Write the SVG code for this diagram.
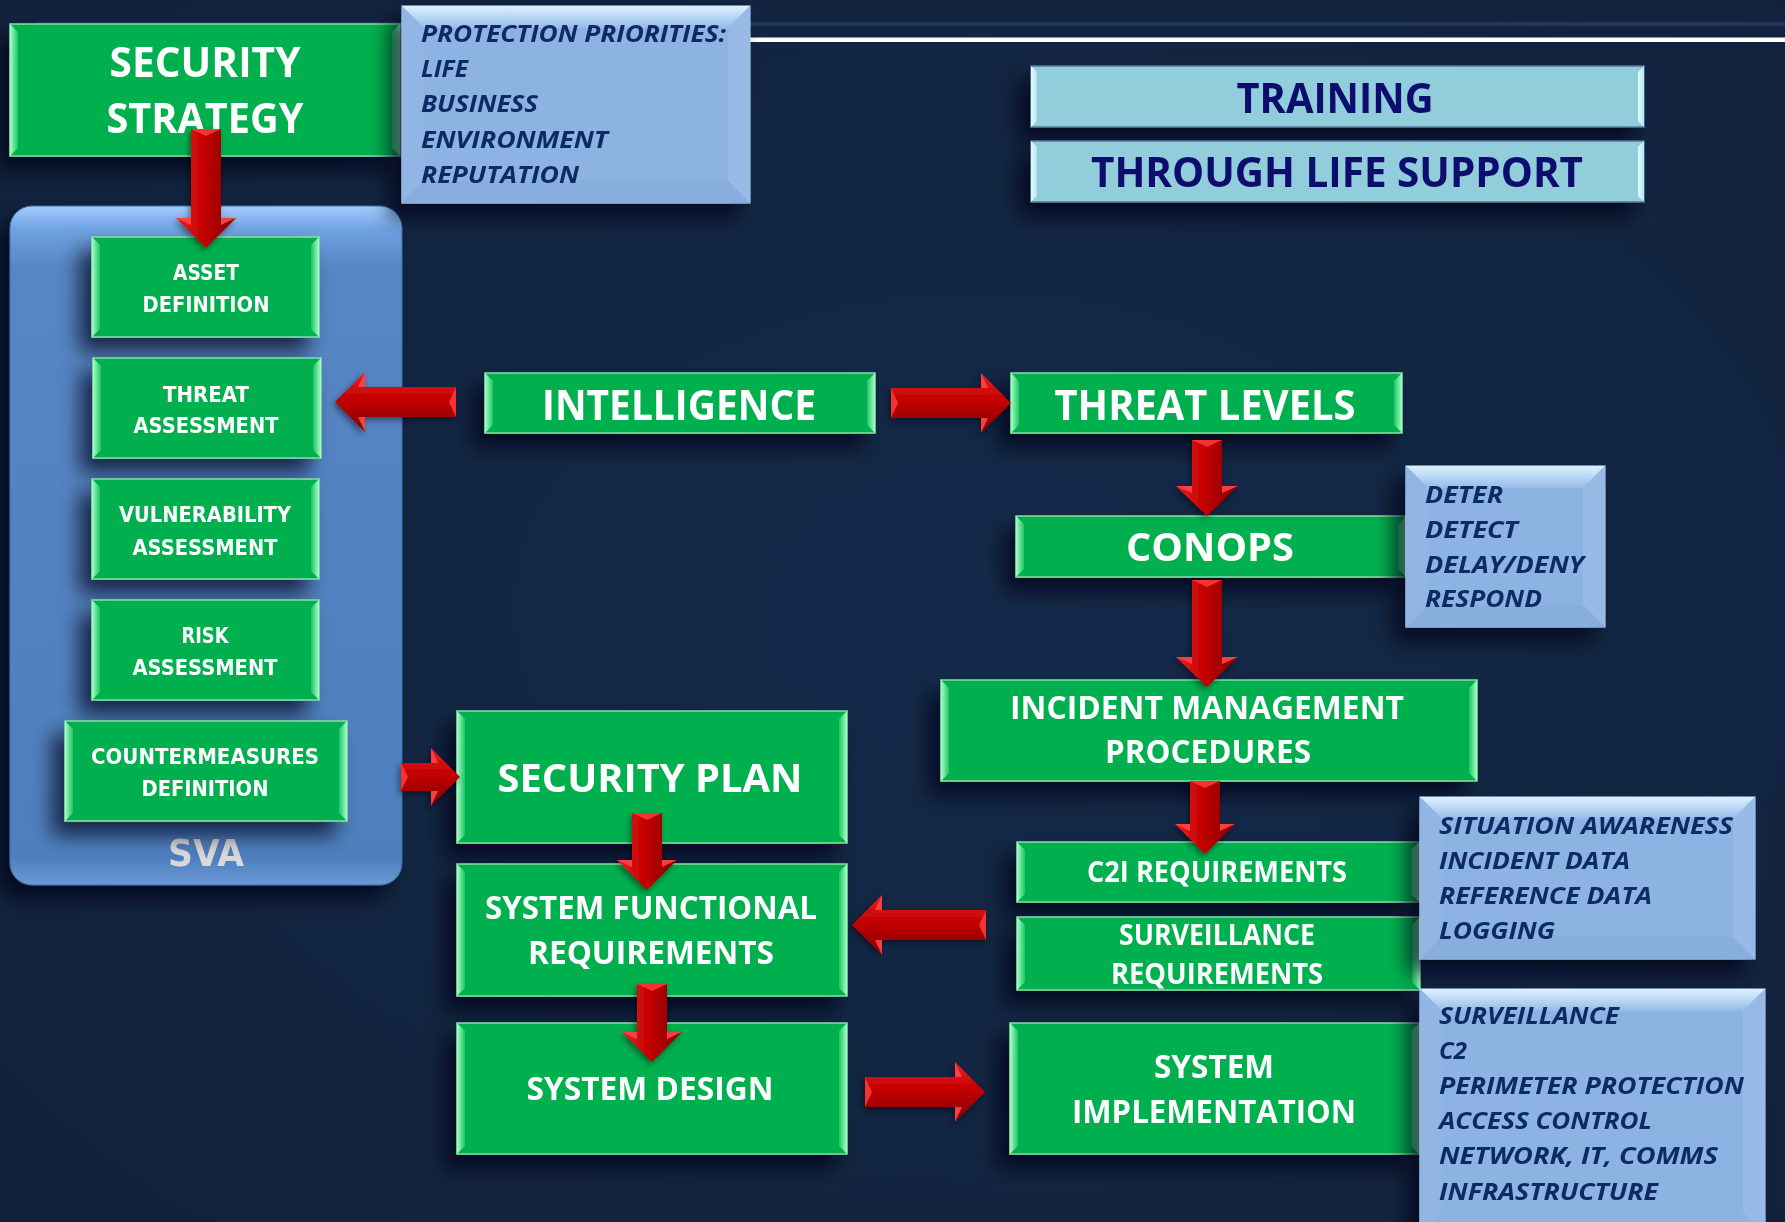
<svg xmlns="http://www.w3.org/2000/svg" width="1785" height="1222" viewBox="0 0 1785 1222">
  <defs>
    <style>
      .bg { fill: #12243f; }
      .gbox { fill: #00b050; stroke: #86dfa6; stroke-width: 1.5; }
      .gbl { fill: url(#bevL); }
      .gbr { fill: url(#bevR); }
      .bbox { fill: #8db3e2; stroke: #a9c9ef; stroke-width: 1.2; }
      .bb-top { fill: url(#bevTop); }
      .bb-left { fill: #91b6e4; }
      .bb-right { fill: #97bae7; }
      .bb-bot { fill: #88aede; }
      .tbox { fill: #92cddc; stroke: #56789a; stroke-width: 1.5; }
      .tbev { fill: url(#tBev); }
      .g-txt { font-family: "Open Sans", "Liberation Sans", sans-serif; font-weight: 700; fill: #ffffff; text-anchor: middle; }
      .s-txt { font-family: "DejaVu Sans", "Liberation Sans", sans-serif; font-weight: 700; fill: #ffffff; text-anchor: middle; font-size: 22px; }
      .i-txt { font-family: "Open Sans", "Liberation Sans", sans-serif; font-weight: 700; font-style: italic; fill: #0f2a62; font-size: 24px; }
      .t-txt { font-family: "Open Sans", "Liberation Sans", sans-serif; font-weight: 700; fill: #0b0b6e; text-anchor: middle; font-size: 42px; }
      .arr-body { fill: url(#arrG); }
      .arr-tail { fill: #ff3a3a; opacity: 0.85; }
      .arr-barb { fill: #ff4646; opacity: 0.9; }
    </style>
    <linearGradient id="bevL" x1="0" y1="0" x2="1" y2="0">
      <stop offset="0" stop-color="#a6ffc8"/>
      <stop offset="1" stop-color="#1fc463"/>
    </linearGradient>
    <linearGradient id="bevR" x1="0" y1="0" x2="1" y2="0">
      <stop offset="0" stop-color="#1fc463"/>
      <stop offset="1" stop-color="#a6ffc8"/>
    </linearGradient>
    <linearGradient id="bevTop" x1="0" y1="0" x2="0" y2="1">
      <stop offset="0" stop-color="#dcf2ff"/>
      <stop offset="1" stop-color="#96bbe8"/>
    </linearGradient>
    <linearGradient id="tBev" x1="0" y1="0" x2="1" y2="0">
      <stop offset="0" stop-color="#e4fbff"/>
      <stop offset="1" stop-color="#b4e6ef"/>
    </linearGradient>
    <linearGradient id="svaG" x1="0" y1="0" x2="0" y2="1">
      <stop offset="0" stop-color="#a2ccff"/>
      <stop offset="0.035" stop-color="#6fa2e2"/>
      <stop offset="0.09" stop-color="#5686c5"/>
      <stop offset="0.96" stop-color="#4e7fbe"/>
      <stop offset="1" stop-color="#6b99d6"/>
    </linearGradient>
    <linearGradient id="arrG" x1="0" y1="0" x2="0" y2="1">
      <stop offset="0" stop-color="#e82222"/>
      <stop offset="0.45" stop-color="#c40000"/>
      <stop offset="1" stop-color="#820000"/>
    </linearGradient>
    <radialGradient id="bgG" cx="0.55" cy="0.5" r="0.7">
      <stop offset="0" stop-color="#142a4a"/>
      <stop offset="1" stop-color="#11223d"/>
    </radialGradient>
    <filter id="sh" x="-20%" y="-30%" width="150%" height="180%">
      <feGaussianBlur in="SourceAlpha" stdDeviation="10"/>
      <feOffset dx="-12" dy="14" result="b"/>
      <feFlood flood-color="#050a14" flood-opacity="0.7"/>
      <feComposite in2="b" operator="in"/>
      <feMerge><feMergeNode/><feMergeNode in="SourceGraphic"/></feMerge>
    </filter>
    <filter id="shA" x="-30%" y="-30%" width="160%" height="160%">
      <feGaussianBlur in="SourceAlpha" stdDeviation="3"/>
      <feOffset dx="-2" dy="3" result="b"/>
      <feFlood flood-color="#000000" flood-opacity="0.45"/>
      <feComposite in2="b" operator="in"/>
      <feMerge><feMergeNode/><feMergeNode in="SourceGraphic"/></feMerge>
    </filter>
  </defs>

  <!-- backdrop and header rules -->
  <rect class="bg" x="0" y="0" width="1785" height="1222" style="fill:url(#bgG)"/>
  <rect x="37" y="22" width="1748" height="4" fill="#23375a"/>
  <rect x="750" y="37.5" width="1035" height="4.5" fill="#ffffff"/>

  <!-- SVA container -->
  <g id="sva" filter="url(#sh)">
    <rect x="10" y="206" width="392" height="679" rx="22" fill="url(#svaG)" stroke="#3f6fae" stroke-width="1"/>
    <text x="206" y="866" font-family="DejaVu Sans, Liberation Sans, sans-serif" font-weight="700" font-size="38" fill="#d9d9d9" text-anchor="middle" textLength="76" lengthAdjust="spacingAndGlyphs">SVA</text>
  </g>

  <!-- green process nodes -->
  <g id="security-strategy" filter="url(#sh)">
    <rect class="gbox" x="10" y="24" width="390" height="132"/>
    <polygon class="gbl" points="10,24 18,32 18,148 10,156"/>
    <polygon class="gbr" points="400,24 392,32 392,148 400,156"/>
    <text class="g-txt" x="205" y="77" font-size="42" textLength="191" lengthAdjust="spacingAndGlyphs">SECURITY</text>
    <text class="g-txt" x="205" y="133" font-size="42" textLength="197" lengthAdjust="spacingAndGlyphs">STRATEGY</text>
  </g>

  <g id="asset-definition" filter="url(#sh)">
    <rect class="gbox" x="92" y="237" width="227" height="100"/>
    <polygon class="gbl" points="92,237 100,245 100,329 92,337"/>
    <polygon class="gbr" points="319,237 311,245 311,329 319,337"/>
    <text class="s-txt" x="206" y="280" textLength="66" lengthAdjust="spacingAndGlyphs">ASSET</text>
    <text class="s-txt" x="206" y="312" textLength="127" lengthAdjust="spacingAndGlyphs">DEFINITION</text>
  </g>

  <g id="threat-assessment" filter="url(#sh)">
    <rect class="gbox" x="93" y="358" width="228" height="100"/>
    <polygon class="gbl" points="93,358 101,366 101,450 93,458"/>
    <polygon class="gbr" points="321,358 313,366 313,450 321,458"/>
    <text class="s-txt" x="206" y="402" textLength="86" lengthAdjust="spacingAndGlyphs">THREAT</text>
    <text class="s-txt" x="206" y="433" textLength="145" lengthAdjust="spacingAndGlyphs">ASSESSMENT</text>
  </g>

  <g id="vulnerability-assessment" filter="url(#sh)">
    <rect class="gbox" x="92" y="479" width="227" height="100"/>
    <polygon class="gbl" points="92,479 100,487 100,571 92,579"/>
    <polygon class="gbr" points="319,479 311,487 311,571 319,579"/>
    <text class="s-txt" x="205" y="522" textLength="172" lengthAdjust="spacingAndGlyphs">VULNERABILITY</text>
    <text class="s-txt" x="205" y="555" textLength="145" lengthAdjust="spacingAndGlyphs">ASSESSMENT</text>
  </g>

  <g id="risk-assessment" filter="url(#sh)">
    <rect class="gbox" x="92" y="600" width="227" height="100"/>
    <polygon class="gbl" points="92,600 100,608 100,692 92,700"/>
    <polygon class="gbr" points="319,600 311,608 311,692 319,700"/>
    <text class="s-txt" x="205" y="643" textLength="47" lengthAdjust="spacingAndGlyphs">RISK</text>
    <text class="s-txt" x="205" y="675" textLength="145" lengthAdjust="spacingAndGlyphs">ASSESSMENT</text>
  </g>

  <g id="countermeasures-definition" filter="url(#sh)">
    <rect class="gbox" x="65" y="721" width="282" height="100"/>
    <polygon class="gbl" points="65,721 73,729 73,813 65,821"/>
    <polygon class="gbr" points="347,721 339,729 339,813 347,821"/>
    <text class="s-txt" x="205" y="764" textLength="228" lengthAdjust="spacingAndGlyphs">COUNTERMEASURES</text>
    <text class="s-txt" x="205" y="796" textLength="127" lengthAdjust="spacingAndGlyphs">DEFINITION</text>
  </g>

  <g id="intelligence" filter="url(#sh)">
    <rect class="gbox" x="485" y="373" width="390" height="60"/>
    <polygon class="gbl" points="485,373 493,381 493,425 485,433"/>
    <polygon class="gbr" points="875,373 867,381 867,425 875,433"/>
    <text class="g-txt" x="679" y="420" font-size="42" textLength="274" lengthAdjust="spacingAndGlyphs">INTELLIGENCE</text>
  </g>

  <g id="threat-levels" filter="url(#sh)">
    <rect class="gbox" x="1011" y="373" width="391" height="60"/>
    <polygon class="gbl" points="1011,373 1019,381 1019,425 1011,433"/>
    <polygon class="gbr" points="1402,373 1394,381 1394,425 1402,433"/>
    <text class="g-txt" x="1205" y="420" font-size="42" textLength="301" lengthAdjust="spacingAndGlyphs">THREAT LEVELS</text>
  </g>

  <g id="conops" filter="url(#sh)">
    <rect class="gbox" x="1016" y="516" width="390" height="61"/>
    <polygon class="gbl" points="1016,516 1024,524 1024,569 1016,577"/>
    <polygon class="gbr" points="1406,516 1398,524 1398,569 1406,577"/>
    <text class="g-txt" x="1210" y="561" font-size="40" textLength="168" lengthAdjust="spacingAndGlyphs">CONOPS</text>
  </g>

  <g id="incident-management" filter="url(#sh)">
    <rect class="gbox" x="941" y="680" width="536" height="101"/>
    <polygon class="gbl" points="941,680 949,688 949,773 941,781"/>
    <polygon class="gbr" points="1477,680 1469,688 1469,773 1477,781"/>
    <text class="g-txt" x="1207" y="719" font-size="32" textLength="394" lengthAdjust="spacingAndGlyphs">INCIDENT MANAGEMENT</text>
    <text class="g-txt" x="1208" y="763" font-size="32" textLength="206" lengthAdjust="spacingAndGlyphs">PROCEDURES</text>
  </g>

  <g id="c2i-requirements" filter="url(#sh)">
    <rect class="gbox" x="1017" y="842" width="402" height="60"/>
    <polygon class="gbl" points="1017,842 1025,850 1025,894 1017,902"/>
    <polygon class="gbr" points="1419,842 1411,850 1411,894 1419,902"/>
    <text class="g-txt" x="1217" y="882" font-size="28" textLength="260" lengthAdjust="spacingAndGlyphs">C2I REQUIREMENTS</text>
  </g>

  <g id="surveillance-requirements" filter="url(#sh)">
    <rect class="gbox" x="1017" y="917" width="403" height="73"/>
    <polygon class="gbl" points="1017,917 1025,925 1025,982 1017,990"/>
    <polygon class="gbr" points="1420,917 1412,925 1412,982 1420,990"/>
    <text class="g-txt" x="1217" y="945" font-size="28" textLength="196" lengthAdjust="spacingAndGlyphs">SURVEILLANCE</text>
    <text class="g-txt" x="1217" y="984" font-size="28" textLength="212" lengthAdjust="spacingAndGlyphs">REQUIREMENTS</text>
  </g>

  <g id="security-plan" filter="url(#sh)">
    <rect class="gbox" x="457" y="711" width="390" height="132"/>
    <polygon class="gbl" points="457,711 465,719 465,835 457,843"/>
    <polygon class="gbr" points="847,711 839,719 839,835 847,843"/>
    <text class="g-txt" x="650" y="792" font-size="40" textLength="305" lengthAdjust="spacingAndGlyphs">SECURITY PLAN</text>
  </g>

  <g id="system-functional-requirements" filter="url(#sh)">
    <rect class="gbox" x="457" y="864" width="390" height="132"/>
    <polygon class="gbl" points="457,864 465,872 465,988 457,996"/>
    <polygon class="gbr" points="847,864 839,872 839,988 847,996"/>
    <text class="g-txt" x="651" y="919" font-size="33" textLength="332" lengthAdjust="spacingAndGlyphs">SYSTEM FUNCTIONAL</text>
    <text class="g-txt" x="651" y="964" font-size="33" textLength="246" lengthAdjust="spacingAndGlyphs">REQUIREMENTS</text>
  </g>

  <g id="system-design" filter="url(#sh)">
    <rect class="gbox" x="457" y="1023" width="390" height="131"/>
    <polygon class="gbl" points="457,1023 465,1031 465,1146 457,1154"/>
    <polygon class="gbr" points="847,1023 839,1031 839,1146 847,1154"/>
    <text class="g-txt" x="650" y="1100" font-size="33" textLength="247" lengthAdjust="spacingAndGlyphs">SYSTEM DESIGN</text>
  </g>

  <g id="system-implementation" filter="url(#sh)">
    <rect class="gbox" x="1010" y="1023" width="409" height="131"/>
    <polygon class="gbl" points="1010,1023 1018,1031 1018,1146 1010,1154"/>
    <polygon class="gbr" points="1419,1023 1411,1031 1411,1146 1419,1154"/>
    <text class="g-txt" x="1214" y="1078" font-size="33" textLength="120" lengthAdjust="spacingAndGlyphs">SYSTEM</text>
    <text class="g-txt" x="1214" y="1123" font-size="33" textLength="284" lengthAdjust="spacingAndGlyphs">IMPLEMENTATION</text>
  </g>

  <!-- blue note panels -->
  <g id="protection-priorities" filter="url(#sh)">
    <rect class="bbox" x="402" y="6" width="348" height="197"/>
    <polygon class="bb-top" points="402,6 750,6 728,28 424,28"/>
    <polygon class="bb-left" points="402,6 424,28 424,181 402,203"/>
    <polygon class="bb-right" points="750,6 728,28 728,181 750,203"/>
    <polygon class="bb-bot" points="402,203 424,181 728,181 750,203"/>
    <rect x="424" y="28" width="304" height="153" fill="#8db3e2"/>
    <text class="i-txt" x="421" y="42" textLength="305" lengthAdjust="spacingAndGlyphs">PROTECTION PRIORITIES:</text>
    <text class="i-txt" x="421" y="77" textLength="47" lengthAdjust="spacingAndGlyphs">LIFE</text>
    <text class="i-txt" x="421" y="112" textLength="117" lengthAdjust="spacingAndGlyphs">BUSINESS</text>
    <text class="i-txt" x="421" y="148" textLength="187" lengthAdjust="spacingAndGlyphs">ENVIRONMENT</text>
    <text class="i-txt" x="421" y="183" textLength="158" lengthAdjust="spacingAndGlyphs">REPUTATION</text>
  </g>

  <g id="conops-modes" filter="url(#sh)">
    <rect class="bbox" x="1406" y="466" width="199" height="161"/>
    <polygon class="bb-top" points="1406,466 1605,466 1583,488 1428,488"/>
    <polygon class="bb-left" points="1406,466 1428,488 1428,605 1406,627"/>
    <polygon class="bb-right" points="1605,466 1583,488 1583,605 1605,627"/>
    <polygon class="bb-bot" points="1406,627 1428,605 1583,605 1605,627"/>
    <rect x="1428" y="488" width="155" height="117" fill="#8db3e2"/>
    <text class="i-txt" x="1425" y="503" textLength="78" lengthAdjust="spacingAndGlyphs">DETER</text>
    <text class="i-txt" x="1425" y="538" textLength="93" lengthAdjust="spacingAndGlyphs">DETECT</text>
    <text class="i-txt" x="1425" y="573" textLength="159" lengthAdjust="spacingAndGlyphs">DELAY/DENY</text>
    <text class="i-txt" x="1425" y="607" textLength="117" lengthAdjust="spacingAndGlyphs">RESPOND</text>
  </g>

  <g id="c2i-scope" filter="url(#sh)">
    <rect class="bbox" x="1420" y="797" width="335" height="162"/>
    <polygon class="bb-top" points="1420,797 1755,797 1733,819 1442,819"/>
    <polygon class="bb-left" points="1420,797 1442,819 1442,937 1420,959"/>
    <polygon class="bb-right" points="1755,797 1733,819 1733,937 1755,959"/>
    <polygon class="bb-bot" points="1420,959 1442,937 1733,937 1755,959"/>
    <rect x="1442" y="819" width="291" height="118" fill="#8db3e2"/>
    <text class="i-txt" x="1439" y="834" textLength="294" lengthAdjust="spacingAndGlyphs">SITUATION AWARENESS</text>
    <text class="i-txt" x="1439" y="869" textLength="191" lengthAdjust="spacingAndGlyphs">INCIDENT DATA</text>
    <text class="i-txt" x="1439" y="904" textLength="213" lengthAdjust="spacingAndGlyphs">REFERENCE DATA</text>
    <text class="i-txt" x="1439" y="939" textLength="116" lengthAdjust="spacingAndGlyphs">LOGGING</text>
  </g>

  <g id="implementation-scope" filter="url(#sh)">
    <rect class="bbox" x="1420" y="989" width="345" height="245"/>
    <polygon class="bb-top" points="1420,989 1765,989 1743,1011 1442,1011"/>
    <polygon class="bb-left" points="1420,989 1442,1011 1442,1212 1420,1234"/>
    <polygon class="bb-right" points="1765,989 1743,1011 1743,1212 1765,1234"/>
    <rect x="1442" y="1011" width="301" height="211" fill="#8db3e2"/>
    <text class="i-txt" x="1439" y="1024" textLength="180" lengthAdjust="spacingAndGlyphs">SURVEILLANCE</text>
    <text class="i-txt" x="1439" y="1059" textLength="28" lengthAdjust="spacingAndGlyphs">C2</text>
    <text class="i-txt" x="1439" y="1094" textLength="305" lengthAdjust="spacingAndGlyphs">PERIMETER PROTECTION</text>
    <text class="i-txt" x="1439" y="1129" textLength="213" lengthAdjust="spacingAndGlyphs">ACCESS CONTROL</text>
    <text class="i-txt" x="1439" y="1164" textLength="279" lengthAdjust="spacingAndGlyphs">NETWORK, IT, COMMS</text>
    <text class="i-txt" x="1439" y="1200" textLength="219" lengthAdjust="spacingAndGlyphs">INFRASTRUCTURE</text>
  </g>

  <!-- light-blue banners -->
  <g id="training" filter="url(#sh)">
    <rect class="tbox" x="1031" y="66" width="613" height="61"/>
    <polygon class="tbev" points="1031,66 1037,72 1037,121 1031,127"/>
    <polygon class="tbev" points="1644,66 1638,72 1638,121 1644,127"/>
    <text class="t-txt" x="1335" y="113" textLength="197" lengthAdjust="spacingAndGlyphs">TRAINING</text>
  </g>

  <g id="through-life-support" filter="url(#sh)">
    <rect class="tbox" x="1031" y="141" width="613" height="61"/>
    <polygon class="tbev" points="1031,141 1037,147 1037,196 1031,202"/>
    <polygon class="tbev" points="1644,141 1638,147 1638,196 1644,202"/>
    <text class="t-txt" x="1337" y="187" textLength="492" lengthAdjust="spacingAndGlyphs">THROUGH LIFE SUPPORT</text>
  </g>

  <!-- block arrows: local frame points along +x, tail at 0, tip at L -->
  <g id="connectors" filter="url(#shA)">
    <!-- security strategy to asset definition -->
    <g transform="translate(206,129) rotate(90) scale(1,-1)">
      <polygon class="arr-body" points="0,-15 89,-15 89,-30 119,0 89,30 89,15 0,15"/>
      <polygon class="arr-tail" points="0,-15 7,0 0,15"/>
      <polygon class="arr-barb" points="89,-30 96,-15 89,-15"/>
      <polygon class="arr-barb" points="89,30 96,15 89,15"/>
    </g>
    <!-- intelligence to threat assessment -->
    <g transform="translate(456,402) scale(-1,1)">
      <polygon class="arr-body" points="0,-15 91,-15 91,-30 121,0 91,30 91,15 0,15"/>
      <polygon class="arr-tail" points="0,-15 7,0 0,15"/>
      <polygon class="arr-barb" points="91,-30 98,-15 91,-15"/>
      <polygon class="arr-barb" points="91,30 98,15 91,15"/>
    </g>
    <!-- intelligence to threat levels -->
    <g transform="translate(891,403)">
      <polygon class="arr-body" points="0,-15 90,-15 90,-30 120,0 90,30 90,15 0,15"/>
      <polygon class="arr-tail" points="0,-15 7,0 0,15"/>
      <polygon class="arr-barb" points="90,-30 97,-15 90,-15"/>
      <polygon class="arr-barb" points="90,30 97,15 90,15"/>
    </g>
    <!-- threat levels to conops -->
    <g transform="translate(1207,440) rotate(90) scale(1,-1)">
      <polygon class="arr-body" points="0,-15 46,-15 46,-31 76,0 46,31 46,15 0,15"/>
      <polygon class="arr-tail" points="0,-15 7,0 0,15"/>
      <polygon class="arr-barb" points="46,-31 53,-15 46,-15"/>
      <polygon class="arr-barb" points="46,31 53,15 46,15"/>
    </g>
    <!-- conops to incident management -->
    <g transform="translate(1207,580) rotate(90) scale(1,-1)">
      <polygon class="arr-body" points="0,-15 77,-15 77,-31 107,0 77,31 77,15 0,15"/>
      <polygon class="arr-tail" points="0,-15 7,0 0,15"/>
      <polygon class="arr-barb" points="77,-31 84,-15 77,-15"/>
      <polygon class="arr-barb" points="77,31 84,15 77,15"/>
    </g>
    <!-- incident management to c2i requirements -->
    <g transform="translate(1205,781) rotate(90) scale(1,-1)">
      <polygon class="arr-body" points="0,-15 43,-15 43,-30 73,0 43,30 43,15 0,15"/>
      <polygon class="arr-tail" points="0,-15 7,0 0,15"/>
      <polygon class="arr-barb" points="43,-30 50,-15 43,-15"/>
      <polygon class="arr-barb" points="43,30 50,15 43,15"/>
    </g>
    <!-- surveillance requirements to system functional requirements -->
    <g transform="translate(986,925) scale(-1,1)">
      <polygon class="arr-body" points="0,-15 104,-15 104,-30 134,0 104,30 104,15 0,15"/>
      <polygon class="arr-tail" points="0,-15 7,0 0,15"/>
      <polygon class="arr-barb" points="104,-30 111,-15 104,-15"/>
      <polygon class="arr-barb" points="104,30 111,15 104,15"/>
    </g>
    <!-- countermeasures to security plan -->
    <g transform="translate(401,777)">
      <polygon class="arr-body" points="0,-14 30,-14 30,-29 59,0 30,29 30,14 0,14"/>
      <polygon class="arr-tail" points="0,-14 7,0 0,14"/>
      <polygon class="arr-barb" points="30,-29 37,-14 30,-14"/>
      <polygon class="arr-barb" points="30,29 37,14 30,14"/>
    </g>
    <!-- security plan to system functional requirements -->
    <g transform="translate(647,813) rotate(90) scale(1,-1)">
      <polygon class="arr-body" points="0,-15 47,-15 47,-30 77,0 47,30 47,15 0,15"/>
      <polygon class="arr-tail" points="0,-15 7,0 0,15"/>
      <polygon class="arr-barb" points="47,-30 54,-15 47,-15"/>
      <polygon class="arr-barb" points="47,30 54,15 47,15"/>
    </g>
    <!-- system functional requirements to system design -->
    <g transform="translate(652,984) rotate(90) scale(1,-1)">
      <polygon class="arr-body" points="0,-15 48,-15 48,-30 78,0 48,30 48,15 0,15"/>
      <polygon class="arr-tail" points="0,-15 7,0 0,15"/>
      <polygon class="arr-barb" points="48,-30 55,-15 48,-15"/>
      <polygon class="arr-barb" points="48,30 55,15 48,15"/>
    </g>
    <!-- system design to system implementation -->
    <g transform="translate(865,1092)">
      <polygon class="arr-body" points="0,-15 90,-15 90,-30 120,0 90,30 90,15 0,15"/>
      <polygon class="arr-tail" points="0,-15 7,0 0,15"/>
      <polygon class="arr-barb" points="90,-30 97,-15 90,-15"/>
      <polygon class="arr-barb" points="90,30 97,15 90,15"/>
    </g>
  </g>
</svg>
